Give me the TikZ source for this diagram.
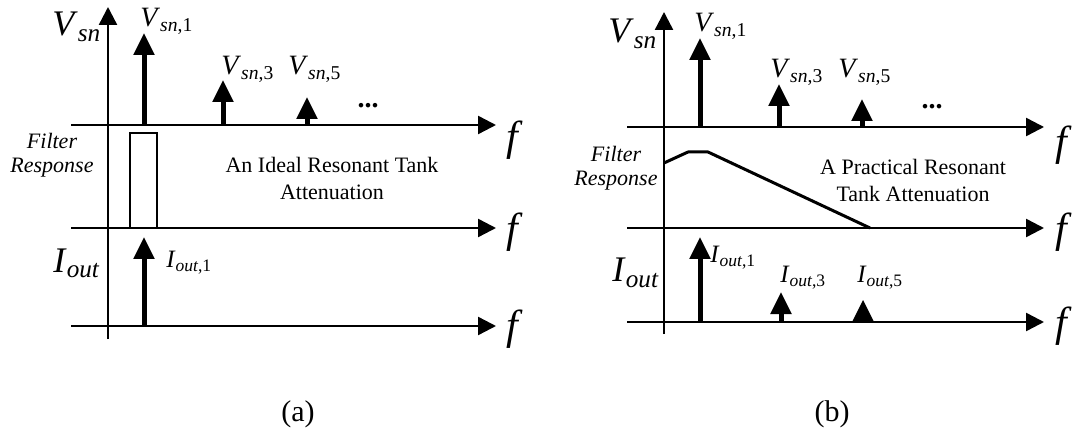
\documentclass[tikz,border=0pt]{standalone}
\usepackage{fontspec}
\setmainfont{Liberation Serif}
\usetikzlibrary{arrows.meta}

\newcommand{\harm}[3]{\textit{#1}\textsubscript{\textit{#2},#3}}

\begin{document}
\begin{tikzpicture}[
  x=0.5pt,y=-0.5pt,
  axis/.style={line width=1.2pt,-{Triangle[length=9pt,width=9pt]}},
  spike/.style={line width=2.5pt,-{Triangle[length=11pt,width=10pt]}},
  lbl/.style={inner sep=0pt,anchor=base west,font=\fontsize{14}{16}\selectfont},
  ilbl/.style={inner sep=0pt,anchor=base west,font=\fontsize{12.5}{14}\selectfont},
  big/.style={inner sep=0pt,anchor=base west,font=\fontsize{18}{20}\selectfont},
  freq/.style={inner sep=0pt,font=\fontsize{21}{23}\selectfont\itshape},
  note/.style={inner sep=0pt,align=center,anchor=base,font=\fontsize{11}{13.5}\selectfont},
  filt/.style={inner sep=0pt,align=center,anchor=base,font=\fontsize{11}{12}\selectfont\itshape},
  caption/.style={inner sep=0pt,font=\fontsize{15}{17}\selectfont}
]
  \useasboundingbox (0,0) rectangle (1079,432);

  % (a) ideal resonant tank
  \draw[axis] (108,339) -- (108,7);
  \draw[axis] (71,125) -- (496,125);
  \draw[axis] (71,228) -- (496,228);
  \draw[axis] (71,326) -- (496,326);
  \node[freq] (fa1) at (512,140) {f};
  \node[freq] (fa2) at (512,232) {f};
  \node[freq] (fa3) at (512,329) {f};

  \node[big] (vsna) at (52,36) {\textit{V}\textsubscript{\textit{sn}}};
  \draw[spike] (144,125) -- (144,33);
  \draw[spike] (223,125) -- (223,80);
  \draw[spike] (307,125) -- (307,97);
  \node[lbl] (vsna1) at (140,27) {\harm{V}{sn}{1}};
  \node[lbl] (vsna3) at (221,75) {\harm{V}{sn}{3}};
  \node[lbl] (vsna5) at (288,75) {\harm{V}{sn}{5}};
  \node[font=\fontsize{14}{16}\selectfont\bfseries] (dotsa) at (368,106) {...};

  \node[filt] (filta) at (52,173) {Filter\\Response};
  \draw[line width=1.1pt] (130,133) rectangle (157,228);
  \node[note] (ideal) at (332,200) {An Ideal Resonant Tank\\Attenuation};

  \node[big] (iouta) at (53,272) {\textit{I}\textsubscript{\textit{out}}};
  \draw[spike] (144,326) -- (144,237);
  \node[ilbl] (iouta1) at (166,268) {\harm{I}{out}{1}};
  \node[caption] (capa) at (298,414) {(a)};

  % (b) practical resonant tank
  \draw[axis] (664,334) -- (664,12);
  \draw[axis] (627,127) -- (1044,127);
  \draw[axis] (627,228) -- (1044,228);
  \draw[axis] (627,322) -- (1044,322);
  \node[freq] (fb1) at (1061,145) {f};
  \node[freq] (fb2) at (1061,232) {f};
  \node[freq] (fb3) at (1061,326) {f};

  \node[big] (vsnb) at (608,43) {\textit{V}\textsubscript{\textit{sn}}};
  \draw[spike] (700,127) -- (700,38);
  \draw[spike] (779,127) -- (779,84);
  \draw[spike] (862,127) -- (862,99);
  \node[lbl] (vsnb1) at (694,32) {\harm{V}{sn}{1}};
  \node[lbl] (vsnb3) at (770,78) {\harm{V}{sn}{3}};
  \node[lbl] (vsnb5) at (838,78) {\harm{V}{sn}{5}};
  \node[font=\fontsize{14}{16}\selectfont\bfseries] (dotsb) at (932,107) {...};

  \node[filt] (filtb) at (616,186) {Filter\\Response};
  \draw[line width=1.5pt,line join=round] (664,163) -- (688,152) -- (708,152) -- (870,228);
  \node[note] (practical) at (913,202) {A Practical Resonant\\Tank Attenuation};

  \node[big] (ioutb) at (612,282) {\textit{I}\textsubscript{\textit{out}}};
  \draw[spike] (700,322) -- (700,237);
  \draw[spike] (781,322) -- (781,292);
  \fill (852,322) -- (863,300) -- (874,322) -- cycle;
  \node[ilbl] (ioutb1) at (710,263) {\harm{I}{out}{1}};
  \node[ilbl] (ioutb3) at (780,283) {\harm{I}{out}{3}};
  \node[ilbl] (ioutb5) at (857,283) {\harm{I}{out}{5}};
  \node[caption] (capb) at (832,414) {(b)};
\end{tikzpicture}
\end{document}
